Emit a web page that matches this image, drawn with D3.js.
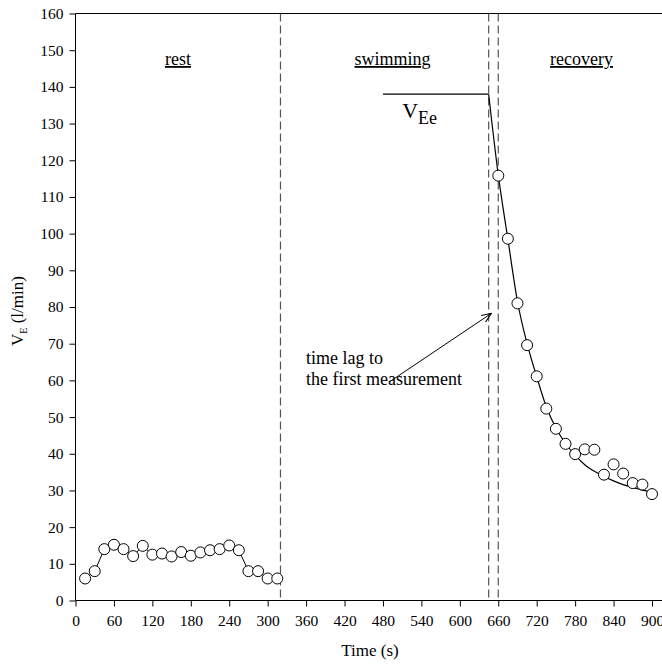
<!DOCTYPE html>
<html>
<head>
<meta charset="utf-8">
<script src="https://cdn.jsdelivr.net/npm/d3@7"></script>
<style>
  html, body { margin: 0; padding: 0; background: #fff; }
  svg { display: block; }
  svg text { font-family: "Liberation Serif", "Times New Roman", serif !important; fill: #000; }
</style>
</head>
<body>
<div id="chart"></div>
<script>
// ---- data ----
const restTime = [15, 30, 45, 60, 75, 90, 105, 120, 135, 150, 165, 180, 195, 210, 225, 240, 255, 270, 285, 300, 315];
const restVE   = [6, 8, 14, 15.2, 14, 12.1, 14.9, 12.5, 12.8, 12, 13.2, 12.2, 13.1, 13.7, 14, 15, 13.7, 8, 8, 6, 6];

const recTime = [660, 675, 690, 705, 720, 735, 750, 765, 780, 795, 810, 825, 840, 855, 870, 885, 900];
const recVE   = [115.8, 98.6, 81, 69.6, 61.1, 52.3, 46.8, 42.7, 39.9, 41.2, 41.1, 34.3, 37.1, 34.6, 32, 31.6, 29];

const fitTime = [645, 660, 675, 690, 705, 720, 735, 750, 765, 780, 795, 810, 825, 840, 855, 870, 885, 900];
const fitVE   = [138, 116, 98.5, 81.5, 70, 61, 52.8, 47, 42.8, 39.6, 37, 35.2, 33.8, 32.6, 31.6, 30.8, 30.1, 29.6];

const plateauTime = [480, 645];
const plateauVE   = [138, 138];

const phaseBounds = [320, 645, 660];
const phaseLabels = ["rest", "swimming", "recovery"];
const phaseLabelTime = [160, 495, 790];

const xTicks = d3.range(0, 901, 60);
const yTicks = d3.range(0, 161, 10);

const arrowFrom = [491, 59.7];
const arrowTo   = [649.5, 78.3];
const noteLines = ["time lag to", "the first measurement"];

// ---- layout ----
const W = 662, H = 666;
const x = d3.scaleLinear().domain([0, 900]).range([75.5, 652]);
const y = d3.scaleLinear().domain([0, 160]).range([600.5, 13.5]);

const svg = d3.select("#chart").append("svg").attr("width", W).attr("height", H)
  .attr("font-family", '"Liberation Serif", serif');

// top frame line extends to the right edge
svg.append("line").attr("x1", x(0)).attr("x2", W).attr("y1", y(160)).attr("y2", y(160))
  .attr("stroke", "#000").attr("stroke-width", 1);

// y axis
const yAxis = svg.append("g").attr("transform", `translate(${x(0)},0)`)
  .call(d3.axisLeft(y).tickValues(yTicks).tickSize(6).tickPadding(6).tickFormat(d3.format("d")));
yAxis.attr("font-family", null).attr("font-size", null);
yAxis.select(".domain").attr("d", `M0,${y(0)}V${y(160)}`);
yAxis.selectAll("text").style("font-size", "15.5px");

// x axis
const xAxis = svg.append("g").attr("transform", `translate(0,${y(0)})`)
  .call(d3.axisBottom(x).tickValues(xTicks).tickSize(6).tickPadding(8).tickFormat(d3.format("d")));
xAxis.attr("font-family", null).attr("font-size", null);
xAxis.select(".domain").attr("d", `M${x(0)},0H${W}`);
xAxis.selectAll("text").style("font-size", "15.5px");

// dashed phase boundaries
svg.selectAll("line.phase").data(phaseBounds).enter().append("line")
  .attr("class", "phase")
  .attr("x1", d => x(d)).attr("x2", d => x(d))
  .attr("y1", y(160)).attr("y2", y(0))
  .attr("stroke", "#555").attr("stroke-width", 1.2).attr("stroke-dasharray", "8,4");

// phase labels (underlined)
svg.selectAll("text.phaselab").data(phaseLabels).enter().append("text")
  .attr("class", "phaselab")
  .attr("x", (d, i) => x(phaseLabelTime[i]))
  .attr("y", 65)
  .attr("text-anchor", "middle")
  .style("font-size", "18px")
  .style("text-decoration", "underline")
  .text(d => d);

// rest line + circles
const line = d3.line().x(d => x(d[0])).y(d => y(d[1]));
const restData = restTime.map((t, i) => [t, restVE[i]]);
svg.append("path").datum(restData).attr("d", line)
  .attr("fill", "none").attr("stroke", "#000").attr("stroke-width", 1);

// plateau line
svg.append("path").datum(plateauTime.map((t, i) => [t, plateauVE[i]])).attr("d", line)
  .attr("fill", "none").attr("stroke", "#000").attr("stroke-width", 1.2);

// fitted recovery curve
const fitData = fitTime.map((t, i) => [t, fitVE[i]]);
svg.append("path").datum(fitData)
  .attr("d", d3.line().x(d => x(d[0])).y(d => y(d[1])).curve(d3.curveMonotoneX))
  .attr("fill", "none").attr("stroke", "#000").attr("stroke-width", 1.2);

const recData = recTime.map((t, i) => [t, recVE[i]]);
svg.selectAll("circle.pt").data(restData.concat(recData)).enter().append("circle")
  .attr("class", "pt")
  .attr("cx", d => x(d[0])).attr("cy", d => y(d[1])).attr("r", 5.5)
  .attr("fill", "#fff").attr("stroke", "#000").attr("stroke-width", 1);

// VEe label
const vee = svg.append("text").attr("x", x(510)).attr("y", 118).style("font-size", "22px");
vee.append("tspan").text("V");
vee.append("tspan").attr("dy", 6).style("font-size", "18px").text("Ee");

// arrow annotation
const defs = svg.append("defs");
defs.append("marker").attr("id", "arr").attr("viewBox", "0 0 10 10")
  .attr("refX", 10).attr("refY", 5).attr("markerWidth", 10).attr("markerHeight", 10)
  .attr("markerUnits", "userSpaceOnUse").attr("orient", "auto")
  .append("path").attr("d", "M0,1L10,5L0,9").attr("fill", "none").attr("stroke", "#000").attr("stroke-width", 1);
svg.append("line")
  .attr("x1", x(arrowFrom[0])).attr("y1", y(arrowFrom[1]))
  .attr("x2", x(arrowTo[0])).attr("y2", y(arrowTo[1]))
  .attr("stroke", "#000").attr("stroke-width", 1).attr("marker-end", "url(#arr)");

svg.selectAll("text.note").data(noteLines).enter().append("text")
  .attr("class", "note")
  .attr("x", 306).attr("y", (d, i) => 364 + i * 21)
  .style("font-size", "18px")
  .text(d => d);

// axis titles
svg.append("text").attr("x", 370).attr("y", 656).attr("text-anchor", "middle")
  .style("font-size", "17px").text("Time (s)");

const yl = svg.append("text").attr("transform", "translate(23,346) rotate(-90)")
  .attr("text-anchor", "start").style("font-size", "17px");
yl.append("tspan").text("V");
yl.append("tspan").attr("dy", 4).style("font-size", "10px").text("E");
yl.append("tspan").attr("dy", -4).text(" (l/min)");
</script>
</body>
</html>
